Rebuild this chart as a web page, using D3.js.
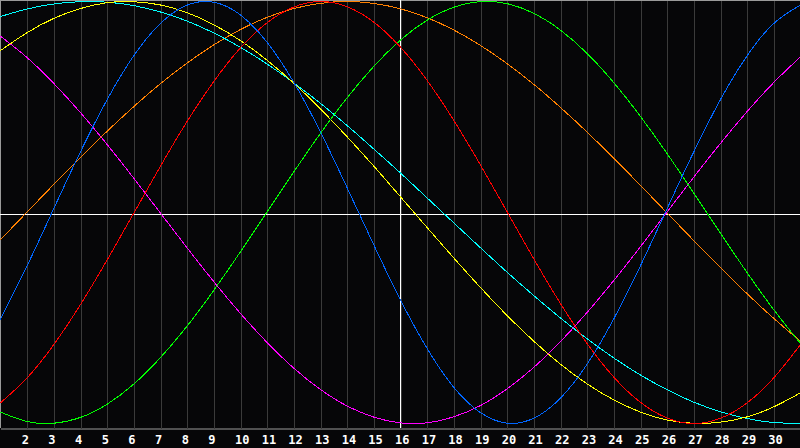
<!DOCTYPE html>
<html>
<head>
<meta charset="utf-8">
<script src="https://cdn.jsdelivr.net/npm/d3@7"></script>
<style>
  html, body { margin: 0; padding: 0; background: #060608; }
  svg { display: block; }
</style>
</head>
<body>
<svg id="chart" width="800" height="448"></svg>
<script>
// Days shown on the chart (day 1 at the left edge, day 31 at the right edge)
const days = d3.range(1, 32);
const tickDays = d3.range(2, 31);
const today = 16;

// Cycle values, one per day
const physical = [-0.508, -0.257, 0.014, 0.283, 0.531, 0.740, 0.894, 0.982, 0.997, 0.938,
  0.809, 0.621, 0.386, 0.122, -0.149, -0.410, -0.641, -0.826, -0.947, -0.998,
  -0.976, -0.882, -0.722, -0.508, -0.257, 0.014, 0.283, 0.531, 0.740, 0.894, 0.982];
const emotional = [-0.904, -0.786, -0.629, -0.440, -0.229, -0.007, 0.216, 0.428, 0.618, 0.778,
  0.898, 0.973, 1.000, 0.976, 0.904, 0.786, 0.629, 0.440, 0.229, 0.007,
  -0.216, -0.428, -0.618, -0.778, -0.898, -0.973, -1.000, -0.976, -0.904, -0.786, -0.629];
const intellectual = [-0.945, -0.990, -0.999, -0.972, -0.910, -0.815, -0.690, -0.541, -0.372, -0.189,
  0.000, 0.189, 0.372, 0.541, 0.690, 0.815, 0.910, 0.972, 0.999, 0.990,
  0.945, 0.866, 0.756, 0.618, 0.458, 0.282, 0.095, -0.095, -0.282, -0.458, -0.618];
const intuitive = [0.837, 0.736, 0.614, 0.476, 0.325, 0.165, 0.000, -0.165, -0.325, -0.476,
  -0.614, -0.736, -0.837, -0.916, -0.969, -0.997, -0.997, -0.969, -0.916, -0.837,
  -0.736, -0.614, -0.476, -0.325, -0.165, 0.000, 0.165, 0.325, 0.476, 0.614, 0.736];
const aesthetic = [0.766, 0.851, 0.919, 0.966, 0.994, 0.999, 0.984, 0.948, 0.891, 0.816,
  0.723, 0.615, 0.493, 0.361, 0.222, 0.077, -0.069, -0.213, -0.353, -0.486,
  -0.608, -0.717, -0.811, -0.887, -0.945, -0.983, -0.999, -0.994, -0.969, -0.922, -0.856];
const awareness = [-0.131, 0.000, 0.131, 0.259, 0.383, 0.500, 0.609, 0.707, 0.793, 0.866,
  0.924, 0.966, 0.991, 1.000, 0.991, 0.966, 0.924, 0.866, 0.793, 0.707,
  0.609, 0.500, 0.383, 0.259, 0.131, 0.000, -0.131, -0.259, -0.383, -0.500, -0.609];
const spiritual = [0.928, 0.964, 0.988, 0.999, 0.997, 0.981, 0.951, 0.908, 0.852, 0.784,
  0.705, 0.616, 0.519, 0.414, 0.303, 0.189, 0.071, -0.047, -0.165, -0.281,
  -0.392, -0.498, -0.597, -0.688, -0.769, -0.839, -0.898, -0.944, -0.976, -0.995, -1.000];

const series = [
  { name: 'Awareness', values: awareness, color: '#ff8000' },
  { name: 'Intuitive', values: intuitive, color: '#ff00ff' },
  { name: 'Spiritual', values: spiritual, color: '#00ffff' },
  { name: 'Aesthetic', values: aesthetic, color: '#ffff00' },
  { name: 'Intellectual', values: intellectual, color: '#00ff00' },
  { name: 'Emotional', values: emotional, color: '#ff0000' },
  { name: 'Physical', values: physical, color: '#0066ff' }
];

const width = 800;
const plotBottom = 428;

const svg = d3.select('#chart');

const x = d3.scaleLinear().domain([1, 31]).range([0, width]);
const y = d3.scaleLinear().domain([-1, 1]).range([423.5, 1.5]);

// Day axis with vertical grid lines
const axis = d3.axisBottom(x)
  .tickValues(tickDays)
  .tickFormat(d3.format('d'))
  .tickSizeInner(-plotBottom)
  .tickSizeOuter(0);

const gAxis = svg.append('g')
  .attr('transform', `translate(0.5, ${plotBottom + 0.5})`)
  .call(axis);

gAxis.select('.domain').attr('stroke', '#9a9a9a');
gAxis.selectAll('.tick line')
  .attr('stroke', '#3a3a3a')
  .attr('shape-rendering', 'crispEdges');
gAxis.selectAll('.tick text')
  .attr('fill', '#ffffff')
  .attr('y', 15)
  .attr('dy', 0)
  .attr('dx', -6)
  .attr('text-anchor', 'start')
  .style('font-family', '"DejaVu Sans Mono", monospace')
  .style('font-weight', 'bold')
  .style('font-size', '12px');

// Frame on the left and top
svg.append('line')
  .attr('x1', 0.5).attr('x2', 0.5).attr('y1', 0).attr('y2', plotBottom)
  .attr('stroke', '#9a9a9a');
svg.append('line')
  .attr('x1', 0).attr('x2', width).attr('y1', 0.5).attr('y2', 0.5)
  .attr('stroke', '#9a9a9a');

// Zero line and today line
svg.append('line')
  .attr('x1', 0).attr('x2', width)
  .attr('y1', Math.round(y(0)) + 1.5).attr('y2', Math.round(y(0)) + 1.5)
  .attr('stroke', '#ffffff');
svg.append('line')
  .attr('x1', x(today) + 0.5).attr('x2', x(today) + 0.5)
  .attr('y1', 0).attr('y2', plotBottom)
  .attr('stroke', '#ffffff');

// Cycle curves
const line = d3.line()
  .x((d, i) => x(days[i]))
  .y(d => y(d))
  .curve(d3.curveNatural);

svg.append('g')
  .selectAll('path')
  .data(series)
  .enter()
  .append('path')
  .attr('d', d => line(d.values))
  .attr('fill', 'none')
  .attr('stroke', d => d.color)
  .attr('stroke-width', 1)
  .attr('shape-rendering', 'crispEdges');
</script>
</body>
</html>
